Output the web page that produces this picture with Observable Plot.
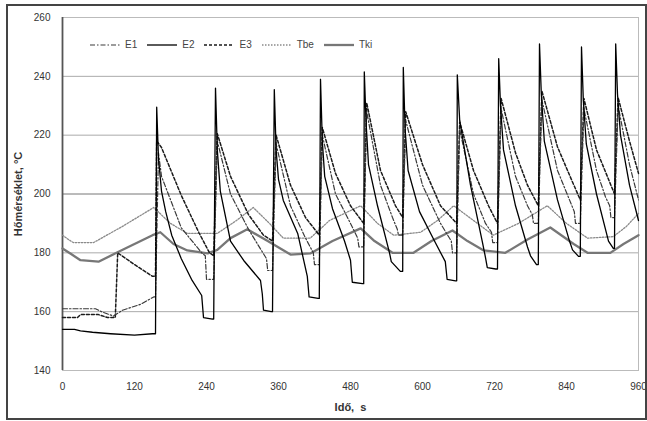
<!DOCTYPE html>
<html>
<head>
<meta charset="utf-8">
<script src="https://cdn.jsdelivr.net/npm/d3@7"></script>
<script src="https://cdn.jsdelivr.net/npm/@observablehq/plot@0.6"></script>
<style>
  html, body { margin: 0; padding: 0; background: #fff; }
  #wrap { position: relative; width: 647px; height: 421px; overflow: hidden; font-family: 'Liberation Sans', Arial, sans-serif; }
  #border { position: absolute; left: 6px; top: 4px; width: 641px; height: 416px; border: 2px solid #444; box-sizing: border-box; pointer-events: none; }
  #legend { position: absolute; left: 90px; top: 39px; display: flex; align-items: center; font-size: 10px; color: #444; }
  #legend .item { display: flex; align-items: center; margin-right: 10px; }
  #legend svg { margin-right: 5px; }
</style>
</head>
<body>
<div id="wrap"><div id="legend"></div><div id="border"></div></div>
<script>
const xTicks = [0, 120, 240, 360, 480, 600, 720, 840, 960];
const yTicks = [140, 160, 180, 200, 220, 240, 260];
const seriesNames = ["E1", "E2", "E3", "Tbe", "Tki"];

// [time (s), temperature (°C)]
const E1 = [[0,161],[55,161],[65,160],[85,158.5],[100,160.5],[130,162.5],[152,165],[155,165],
 [160,214],[165,206],[198,188.5],[232,180],[238,179],[240,171],[252,171],
 [258,218],[280,200],[310,188],[340,178],[342,174],[350,174],
 [356,217],[380,196],[405,185],[418,180],[420,176],[428,176],
 [433,220],[455,200],[480,190],[492,185],[494,182],[502,182],
 [507,228],[530,203],[550,192],[558,188],[560,186],[567,186],
 [572,225],[600,203],[630,190],[648,184],[650,180],[657,180],
 [662,222],[685,200],[705,190],[715,187],[717,183.5],[725,183.5],
 [731,229],[755,206],[775,196],[783,193],[785,190],[793,190],
 [799,232],[825,208],[845,198],[853,194],[855,190],[863,190],
 [869,229],[890,208],[905,199],[912,196],[914,192],[920,192],
 [926,230],[945,210],[960,198]];

const E2 = [[0,154],[20,154],[30,153.5],[50,153],[80,152.5],[120,152],[150,152.5],[155,152.5],
 [157,229.5],[160,212],[165,201],[172,194],[182,186],[198,178],[215,171],[232,165.5],[235,158],[250,157.5],[252,157.5],
 [255,236],[258,215],[263,201],[280,184],[302,177.4],[330,170.6],[333,166],[335,160.5],[348,160],[350,160],
 [353,235.5],[356,215],[360,205],[368,197.8],[392,186.6],[408,172],[411,165],[426,164.5],[428,164.5],
 [430,239],[433,218],[437,206],[450,195],[470,184],[480,177.5],[483,170],[500,169.5],[502,169.5],
 [503,241.5],[506,224],[510,210],[525,196],[545,180],[548,177],[563,173.7],[567,173.7],
 [568,243],[571,222],[576,208],[595,194],[620,184],[638,177],[641,171],[655,170.5],[657,170.5],
 [658,240.5],[662,225],[680,203],[700,183.5],[705,178.4],[708,175],[722,174.5],[725,174.5],
 [727,246],[730,230],[735,215],[755,196],[775,182],[780,179],[790,176],[793,176],
 [795,251],[798,234],[803,218],[825,198],[845,184],[850,181],[860,178.8],[863,178.8],
 [865,250],[868,232],[873,217],[890,200],[905,188],[910,184],[918,181.5],[920,181.5],
 [922,251],[925,234],[930,220],[945,203],[960,191]];

const E3 = [[0,158],[25,158],[30,159],[60,159],[75,158],[88,158],[92,180],[120,176],[150,172],[155,172],
 [157,218],[165,215.8],[198,199.5],[227,187],[245,180],[252,179],
 [258,220.5],[280,206],[310,193],[335,186],[350,184],
 [356,220],[380,203],[405,192],[428,186],
 [433,222.6],[455,207],[480,196],[502,190],
 [507,231],[530,208],[555,196],[567,192],
 [572,228],[600,210],[630,196],[657,190],
 [662,224.5],[685,208],[710,196],[725,190],
 [731,232.5],[755,214],[775,203],[793,196],
 [799,235],[825,216],[848,205],[863,198],
 [869,232.5],[890,215],[908,206],[920,200],
 [926,232.8],[945,218],[960,207]];

const Tbe = [[0,186],[10,184.5],[18,183.5],[52,183.5],[100,189],[152,195.4],[180,190],[208,186.6],[258,186.6],
 [290,191],[318,195.4],[345,190],[368,185],[413,185],[445,191],[497,196],[525,190],[552,186],[597,187],
 [625,191],[652,196],[685,191],[718,186],[760,190],[808,196],[840,190],[875,185],[918,185.5],[940,189],[960,193.4]];

const Tki = [[0,181.5],[15,179.5],[30,177.5],[60,177],[90,180],[120,183],[150,186],[163,187],[185,183],[208,180.8],
 [242,179.8],[258,181],[280,185],[308,188],[342,184],[380,179.4],[413,179.8],[450,184],[497,188.3],[520,184],
 [550,180],[585,180],[615,184],[650,187.6],[675,184],[702,180.8],[738,180],[775,184.5],[813,188.6],[852,183],
 [875,180],[913,180],[935,183],[960,186]];

const seriesData = {E1, E2, E3, Tbe, Tki};
const styles = {
  E1:  {stroke: "#3a3a3a", dash: "5,2,1.5,2", width: 1.2},
  E2:  {stroke: "#000", dash: null, width: 1.3},
  E3:  {stroke: "#1a1a1a", dash: "3,2", width: 1.5},
  Tbe: {stroke: "#8a8a8a", dash: "1.5,1.5", width: 1.3},
  Tki: {stroke: "#777", dash: null, width: 2.3}
};
const drawOrder = ["Tki", "Tbe", "E3", "E1", "E2"];

const lineMarks = drawOrder.map(name => Plot.line(seriesData[name], {
  x: d => d[0], y: d => d[1],
  stroke: styles[name].stroke,
  strokeWidth: styles[name].width,
  strokeDasharray: styles[name].dash || undefined,
  strokeLinejoin: "round"
}));

const chart = Plot.plot({
  width: 647, height: 421,
  marginLeft: 62, marginRight: 9, marginTop: 17, marginBottom: 51,
  style: {fontFamily: "'Liberation Sans', Arial, sans-serif", fontSize: "10px", color: "#333", background: "transparent"},
  x: {domain: [xTicks[0], xTicks[xTicks.length - 1]], ticks: xTicks, tickSize: 0, tickPadding: 12,
      label: "Idő,\u00a0\u00a0s", labelAnchor: "center", labelOffset: 40, labelArrow: "none"},
  y: {domain: [yTicks[0], yTicks[yTicks.length - 1]], ticks: yTicks, tickSize: 0, tickPadding: 12,
      label: "Hőmérséklet, °C", labelAnchor: "center", labelOffset: 48, labelArrow: "none"},
  marks: [
    Plot.gridY(yTicks.filter(v => v !== 200), {stroke: "#aaa", strokeOpacity: 1}),
    Plot.gridY([200], {stroke: "#777", strokeOpacity: 1}),
    Plot.frame({stroke: "#bbb"}),
    Plot.ruleX([xTicks[0]], {stroke: "#555", strokeWidth: 1.8}),
    ...lineMarks
  ]
});

chart.querySelectorAll('[aria-label="x-axis label"], [aria-label="y-axis label"]').forEach(g => {
  g.setAttribute("font-weight", "bold");
  g.setAttribute("font-size", "11px");
  g.style.fontWeight = "bold";
  g.style.fontSize = "11px";
});

const wrap = document.getElementById("wrap");
wrap.insertBefore(chart, wrap.firstChild);

const legend = document.getElementById("legend");
seriesNames.forEach(name => {
  const s = styles[name];
  const item = document.createElement("div");
  item.className = "item";
  item.innerHTML = `<svg width="30" height="6"><line x1="0" y1="3" x2="30" y2="3" stroke="${s.stroke}" stroke-width="${s.width}" ${s.dash ? `stroke-dasharray="${s.dash}"` : ""}/></svg><span>${name}</span>`;
  legend.appendChild(item);
});
</script>
</body>
</html>
